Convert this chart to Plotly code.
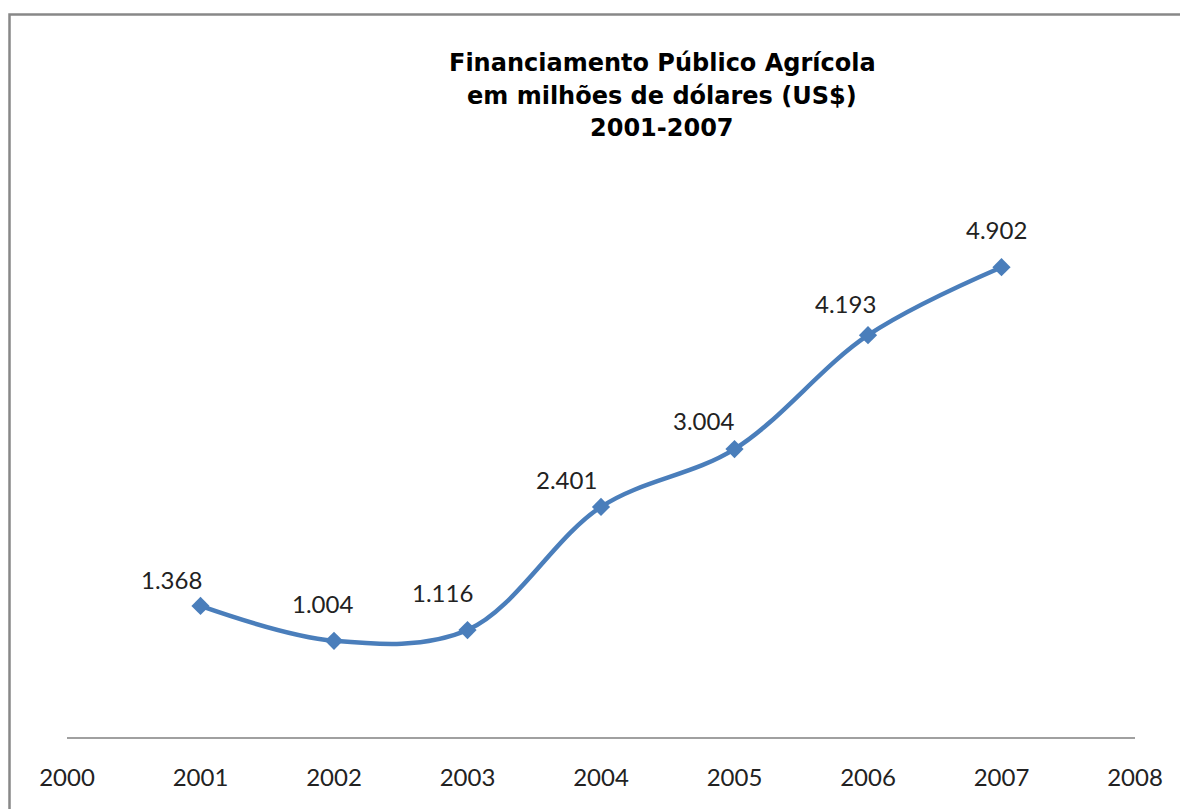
import plotly.graph_objects as go

# Financiamento público agrícola, em milhões de US$
anos = [2001, 2002, 2003, 2004, 2005, 2006, 2007]
valores = [1368, 1004, 1116, 2401, 3004, 4193, 4902]
eixo_anos = [2000, 2001, 2002, 2003, 2004, 2005, 2006, 2007, 2008]
titulo = ["Financiamento Público Agrícola", "em milhões de dólares (US$)", "2001-2007"]

W, H = 1180, 809
ML, MR, MT, MB = 67, 45, 162, 72
PLOT_W = W - ML - MR
PLOT_H = H - MT - MB

AZUL = "#4a7ebb"
FONTE_NUM = "Lato, Calibri, sans-serif"
FONTE_TIT = "DejaVu Sans, Arial, sans-serif"


def px_x(p):
    return (p - ML) / PLOT_W


def px_y(p):
    return (H - MB - p) / PLOT_H


def fmt(v):
    return f"{v:,}".replace(",", ".")


fig = go.Figure()
fig.add_trace(go.Scatter(
    x=anos, y=valores,
    mode="lines+markers",
    line=dict(color=AZUL, width=4.5, shape="spline", smoothing=1.0),
    marker=dict(symbol="diamond", size=14, color=AZUL),
    hoverinfo="skip",
    showlegend=False,
))

# rótulos de dados acima e à esquerda de cada ponto
desloc = [(-29, 26), (-12, 37), (-25, 38), (-35, 27), (-31, 29), (-23, 32), (-5, 38)]
annotations = []
for ano, v, (dx, dy) in zip(anos, valores, desloc):
    annotations.append(dict(
        x=ano, y=v, xref="x", yref="y", text=fmt(v), showarrow=False,
        xanchor="center", yanchor="middle", xshift=dx, yshift=dy,
        font=dict(family=FONTE_NUM, size=24, color="#222222"),
    ))

# título em três linhas
for linha, py in zip(titulo, [63, 96, 128]):
    annotations.append(dict(
        x=px_x(662), y=px_y(py), xref="paper", yref="paper", text=linha,
        showarrow=False, xanchor="center", yanchor="middle",
        font=dict(family=FONTE_TIT, size=24, color="#000000", weight="bold"),
    ))

fig.update_layout(
    width=W, height=H,
    margin=dict(l=ML, r=MR, t=MT, b=MB, pad=0),
    paper_bgcolor="white", plot_bgcolor="white",
    annotations=annotations,
    shapes=[dict(
        type="rect", xref="paper", yref="paper",
        x0=px_x(9.5), x1=px_x(W + 40), y0=px_y(H + 40), y1=px_y(14.5),
        line=dict(color="#888888", width=2.5), fillcolor="rgba(0,0,0,0)",
        layer="below",
    )],
    xaxis=dict(
        range=[2000, 2008], tickvals=eixo_anos, ticktext=[str(a) for a in eixo_anos],
        showgrid=False, zeroline=False, showline=True, linecolor="#a0a0a0", linewidth=1.5,
        ticks="outside", ticklen=18, tickcolor="rgba(0,0,0,0)",
        tickfont=dict(family=FONTE_NUM, size=24, color="#222222"),
        fixedrange=True,
    ),
    yaxis=dict(
        range=[0, 6000], visible=False, showgrid=False, zeroline=False, fixedrange=True,
    ),
)

fig.write_html("out.html")
